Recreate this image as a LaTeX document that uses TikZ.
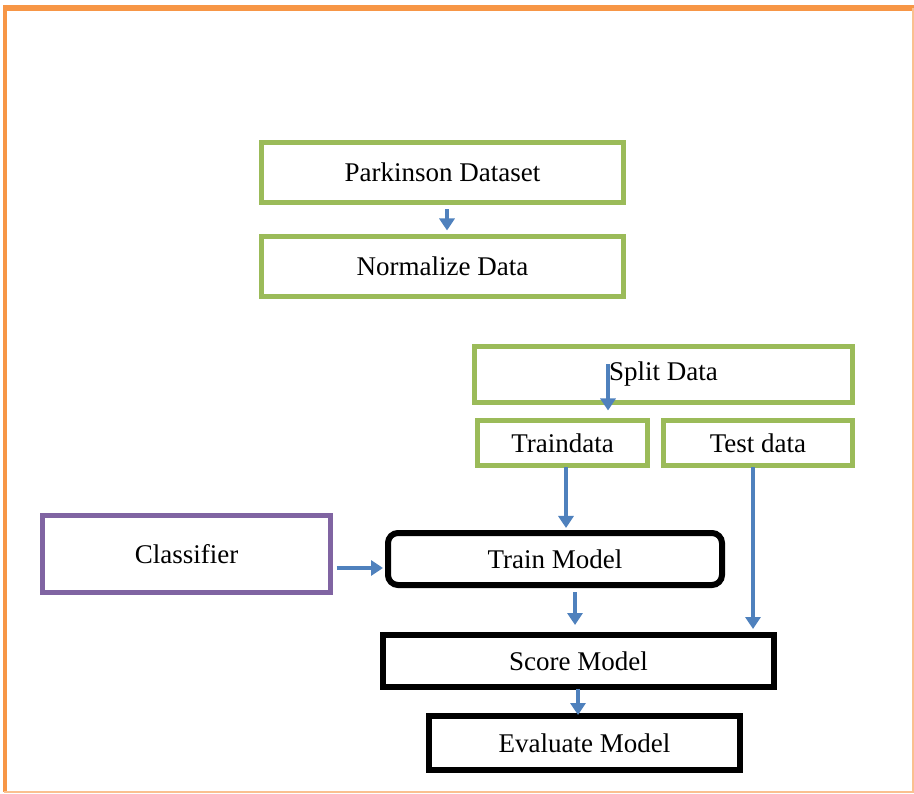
\documentclass[tikz,border=0pt]{standalone}
\usepackage{fontspec}
\setmainfont{Liberation Serif}
\usetikzlibrary{arrows.meta}
\definecolor{ogreen}{HTML}{9BBB59}
\definecolor{opurple}{HTML}{8064A2}
\definecolor{oorange}{HTML}{F79646}
\definecolor{oblue}{HTML}{4F81BD}
\tikzset{
  box/.style={draw, inner sep=0pt, outer sep=0pt, font=\fontsize{27}{30}\selectfont},
  gbox/.style={box, draw=ogreen, line width=5pt},
  pbox/.style={box, draw=opurple, line width=5pt},
  kbox/.style={box, draw=black, line width=6pt},
  arr/.style={draw=oblue, line width=3.5pt, -{Triangle[width=15pt,length=12pt]}},
}
\begin{document}
\begin{tikzpicture}[x=1pt,y=-1pt]
\useasboundingbox (0,0) rectangle (914,794);
% frame
\draw[oorange, line width=6pt] (3,8) -- (914,8);
\draw[oorange, line width=4.5pt] (5,5) -- (5,792);
\draw[oorange!60, line width=1.5pt] (4,792) -- (913,792) -- (913,8);

\node[gbox, minimum width=362pt, minimum height=60pt] (pd) at (442.5,172.5) {Parkinson Dataset};
\node[gbox, minimum width=362pt, minimum height=60pt] (nd) at (442.5,266.5) {Normalize Data};
\node[gbox, minimum width=378pt, minimum height=56pt] (sd) at (663.5,374.5) {Split Data};
\node[gbox, minimum width=170pt, minimum height=45pt] (td) at (562.5,443) {Traindata};
\node[gbox, minimum width=189pt, minimum height=45pt] (ted) at (758,443) {Test data};
\node[pbox, minimum width=288pt, minimum height=77pt] (cl) at (186.5,554) {Classifier};
\node[kbox, rounded corners=10pt, minimum width=334pt, minimum height=52pt] (tm) at (555,559) {Train Model};
\node[kbox, minimum width=391pt, minimum height=52pt] (sm) at (578.5,661) {Score Model};
\node[kbox, minimum width=311pt, minimum height=54pt] (em) at (584.5,743) {Evaluate Model};

\coordinate (sdin) at ([xshift=-55.5pt,yshift=-18pt]sd.north);

\draw[arr, shorten <=7pt, shorten >=6pt] ([xshift=4.5pt]pd.south) -- ([xshift=4.5pt]nd.north);
\draw[arr, shorten >=10pt] (sdin) -- ([xshift=45.5pt]td.north);
\draw[arr, shorten <=2pt, shorten >=5pt] ([xshift=3.5pt]td.south) -- ([xshift=11pt]tm.north);
\draw[arr, shorten <=2pt, shorten >=6pt] ([xshift=-5pt]ted.south) -- ([xshift=174.5pt]sm.north);
\draw[arr, shorten <=6pt, shorten >=5pt] ([yshift=-14pt]cl.east) -- ([yshift=-9pt]tm.west);
\draw[arr, shorten <=7pt, shorten >=10pt] ([xshift=20pt]tm.south) -- ([xshift=-3.5pt]sm.north);
\draw[arr, shorten <=2pt, shorten >=1pt] ([xshift=-0.5pt]sm.south) -- ([xshift=-6.5pt]em.north);
\end{tikzpicture}
\end{document}
